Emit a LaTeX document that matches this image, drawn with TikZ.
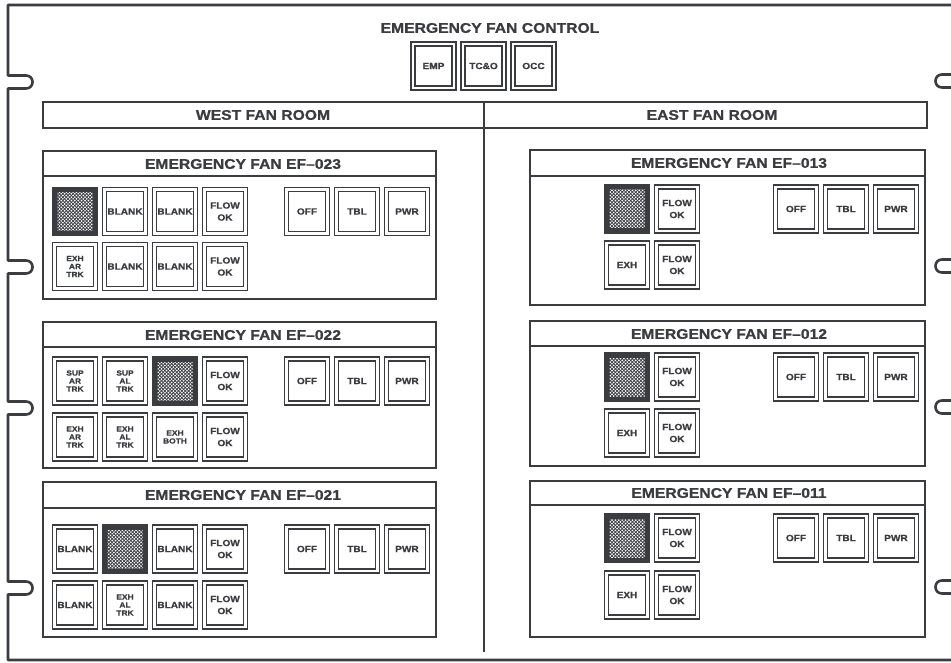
\documentclass[tikz,border=0pt]{standalone}
\usepackage{fontspec}
\newfontfamily\panelfont{Liberation Sans Bold}[FakeStretch=1.12, FakeBold=0.8]
\usepackage{tikz}
\usetikzlibrary{positioning,patterns.meta}
\definecolor{ink}{RGB}{58,60,64}
\tikzstyle{frame} = [draw=ink, line width=2.6pt, line join=round]
\tikzstyle{panel} = [draw=ink, line width=2.4pt]
\tikzstyle{band} = [draw=ink, line width=2pt]
\tikzstyle{head} = [font={\panelfont\fontsize{14}{16}\selectfont}, text=ink, inner sep=0pt]
\tikzstyle{btn} = [draw=ink, double=white, double distance=2.6pt, line width=1.3pt,
  minimum width=41pt, minimum height=44pt, inner sep=0pt, align=center,
  font={\panelfont\fontsize{9}{12}\selectfont}, text=ink]
\tikzstyle{btnsm} = [btn, font={\panelfont\fontsize{7.5}{8}\selectfont}]
\tikzstyle{lit} = [draw=ink, fill=ink, line width=1.3pt, minimum width=45pt, minimum height=48pt,
  path picture={
    \fill[pattern={Dots[distance=3.4pt, radius=0.95pt]}, pattern color=white]
      ([shift={(5pt,-5pt)}]path picture bounding box.north west) rectangle
      ([shift={(-5pt,5pt)}]path picture bounding box.south east);
    \fill[pattern={Dots[distance=3.4pt, radius=0.95pt, xshift=1.7pt, yshift=1.7pt]}, pattern color=white]
      ([shift={(5pt,-5pt)}]path picture bounding box.north west) rectangle
      ([shift={(-5pt,5pt)}]path picture bounding box.south east);}]

\begin{document}
\begin{tikzpicture}[
      x=1pt, y=-1pt,
      node distance = 50pt
    ]
      \useasboundingbox (0,0) rectangle (951,663);

      % outer frame
      \draw[frame] (951,5) -- (8,5)
        \foreach \y in {82,267,408,588} {
          -- (8,\y-6.5) -- (26,\y-6.5) .. controls (34.7,\y-6.5) and (34.7,\y+6.5) .. (26,\y+6.5) -- (8,\y+6.5)
        } -- (8,660) -- (951,660);
      \foreach \y in {81,266,407,587}
        \draw[frame] (951,\y-6.5) -- (942,\y-6.5) .. controls (933.3,\y-6.5) and (933.3,\y+6.5) .. (942,\y+6.5) -- (951,\y+6.5);

      % fan control
      \node[head] (ctlTitle) at (490,28) {EMERGENCY FAN CONTROL};
      \node[btn] (ctlEmp) at (433.5,66) {EMP};
      \node[btn] (ctlTco) [right of=ctlEmp] {TC\&O};
      \node[btn] (ctlOcc) [right of=ctlTco] {OCC};

      % rooms
      \draw[band] (43,102) rectangle (927,128);
      \draw[band] (484,102) -- (484,652);
      \node[head] (westRoom) at (263,115) {WEST FAN ROOM};
      \node[head] (eastRoom) at (712,115) {EAST FAN ROOM};

      % EF-023
      \draw[panel] (43,151) rectangle (436,299);
      \draw[band] (43,176) -- (436,176);
      \node[head] (w23Title) at (243,164) {EMERGENCY FAN EF–023};
      \node[lit] (w23Sup)   at (75,211.5)   {};
      \node[btn] (w23Bl1)   [right of=w23Sup] {BLANK};
      \node[btn] (w23Bl2)   [right of=w23Bl1] {BLANK};
      \node[btn] (w23Flow1) [right of=w23Bl2] {FLOW\\OK};
      \node[btnsm] (w23Exh) [below of=w23Sup, node distance=55pt] {EXH\\AR\\TRK};
      \node[btn] (w23Bl3)   [right of=w23Exh] {BLANK};
      \node[btn] (w23Bl4)   [right of=w23Bl3] {BLANK};
      \node[btn] (w23Flow2) [right of=w23Bl4] {FLOW\\OK};
      \node[btn] (w23Off)   at (307,211.5)  {OFF};
      \node[btn] (w23Tbl)   [right of=w23Off] {TBL};
      \node[btn] (w23Pwr)   [right of=w23Tbl] {PWR};

      % EF-022
      \draw[panel] (43,322) rectangle (436,468);
      \draw[band] (43,347) -- (436,347);
      \node[head] (w22Title) at (243,335) {EMERGENCY FAN EF–022};
      \node[btnsm] (w22SupR) at (75,381)    {SUP\\AR\\TRK};
      \node[btnsm] (w22SupL) [right of=w22SupR] {SUP\\AL\\TRK};
      \node[lit] (w22SupB)   [right of=w22SupL] {};
      \node[btn] (w22Flow1)  [right of=w22SupB] {FLOW\\OK};
      \node[btnsm] (w22ExhR) [below of=w22SupR, node distance=56pt] {EXH\\AR\\TRK};
      \node[btnsm] (w22ExhL) [right of=w22ExhR] {EXH\\AL\\TRK};
      \node[btnsm] (w22ExhB) [right of=w22ExhL] {EXH\\BOTH};
      \node[btn] (w22Flow2)  [right of=w22ExhB] {FLOW\\OK};
      \node[btn] (w22Off)    at (307,381)   {OFF};
      \node[btn] (w22Tbl)    [right of=w22Off] {TBL};
      \node[btn] (w22Pwr)    [right of=w22Tbl] {PWR};

      % EF-021
      \draw[panel] (43,482) rectangle (436,637);
      \draw[band] (43,508) -- (436,508);
      \node[head] (w21Title) at (243,495) {EMERGENCY FAN EF–021};
      \node[btn] (w21Bl1)    at (75,549)    {BLANK};
      \node[lit] (w21Sup)    [right of=w21Bl1] {};
      \node[btn] (w21Bl2)    [right of=w21Sup] {BLANK};
      \node[btn] (w21Flow1)  [right of=w21Bl2] {FLOW\\OK};
      \node[btn] (w21Bl3)    [below of=w21Bl1, node distance=56pt] {BLANK};
      \node[btnsm] (w21Exh)  [right of=w21Bl3] {EXH\\AL\\TRK};
      \node[btn] (w21Bl4)    [right of=w21Exh] {BLANK};
      \node[btn] (w21Flow2)  [right of=w21Bl4] {FLOW\\OK};
      \node[btn] (w21Off)    at (307,549)   {OFF};
      \node[btn] (w21Tbl)    [right of=w21Off] {TBL};
      \node[btn] (w21Pwr)    [right of=w21Tbl] {PWR};

      % EF-013
      \draw[panel] (530,150) rectangle (925,305);
      \draw[band] (530,176) -- (925,176);
      \node[head] (e13Title) at (729,163) {EMERGENCY FAN EF–013};
      \node[lit] (e13Sup)    at (627,209)   {};
      \node[btn] (e13Flow1)  [right of=e13Sup] {FLOW\\OK};
      \node[btn] (e13Exh)    [below of=e13Sup, node distance=56pt] {EXH};
      \node[btn] (e13Flow2)  [right of=e13Exh] {FLOW\\OK};
      \node[btn] (e13Off)    at (796,209)   {OFF};
      \node[btn] (e13Tbl)    [right of=e13Off] {TBL};
      \node[btn] (e13Pwr)    [right of=e13Tbl] {PWR};

      % EF-012
      \draw[panel] (530,321) rectangle (925,466);
      \draw[band] (530,346) -- (925,346);
      \node[head] (e12Title) at (729,334) {EMERGENCY FAN EF–012};
      \node[lit] (e12Sup)    at (627,377)   {};
      \node[btn] (e12Flow1)  [right of=e12Sup] {FLOW\\OK};
      \node[btn] (e12Exh)    [below of=e12Sup, node distance=56pt] {EXH};
      \node[btn] (e12Flow2)  [right of=e12Exh] {FLOW\\OK};
      \node[btn] (e12Off)    at (796,377)   {OFF};
      \node[btn] (e12Tbl)    [right of=e12Off] {TBL};
      \node[btn] (e12Pwr)    [right of=e12Tbl] {PWR};

      % EF-011
      \draw[panel] (530,481) rectangle (925,637);
      \draw[band] (530,505) -- (925,505);
      \node[head] (e11Title) at (729,493) {EMERGENCY FAN EF–011};
      \node[lit] (e11Sup)    at (627,538)   {};
      \node[btn] (e11Flow1)  [right of=e11Sup] {FLOW\\OK};
      \node[btn] (e11Exh)    [below of=e11Sup, node distance=57pt] {EXH};
      \node[btn] (e11Flow2)  [right of=e11Exh] {FLOW\\OK};
      \node[btn] (e11Off)    at (796,538)   {OFF};
      \node[btn] (e11Tbl)    [right of=e11Off] {TBL};
      \node[btn] (e11Pwr)    [right of=e11Tbl] {PWR};
    \end{tikzpicture}
\end{document}
